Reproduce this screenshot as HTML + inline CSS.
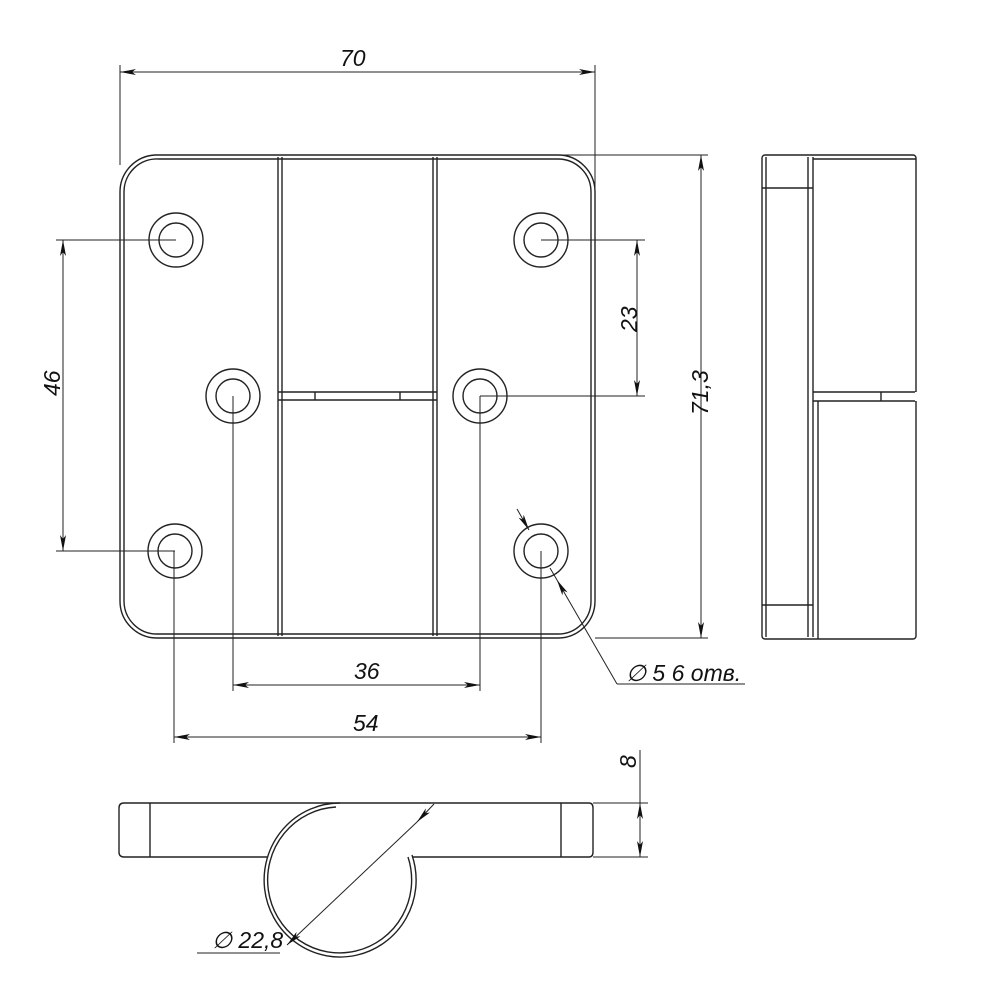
<!DOCTYPE html>
<html><head><meta charset="utf-8"><style>
html,body{margin:0;padding:0;background:#fff}
svg{display:block}
text{font-family:"Liberation Sans",sans-serif;font-style:italic;font-size:23px;fill:#111}
</style></head><body>
<svg width="1000" height="1000" viewBox="0 0 1000 1000" xmlns="http://www.w3.org/2000/svg">
<defs>
<marker id="a" viewBox="0 0 16 6" refX="16" refY="3" markerWidth="16" markerHeight="6" markerUnits="userSpaceOnUse" orient="auto-start-reverse"><path d="M0,0 L16,3 L0,6 L4,3 Z" fill="#111"/></marker>
</defs>
<g fill="none" stroke="#222" stroke-width="1.4">
<path d="M155,155 H558 A37,37 0 0 1 595,192 V601 A37,37 0 0 1 558,638 H157 A37,37 0 0 1 120,601 V192 A37,37 0 0 1 155,155 Z"/>
<path d="M159,159 H558 A33,33 0 0 1 591,192 V601 A33,33 0 0 1 558,634 H157 A33,33 0 0 1 124,601 V192 A33,33 0 0 1 159,159"/>
<line x1="278" y1="157" x2="278" y2="636"/><line x1="282" y1="157" x2="282" y2="636"/>
<line x1="433" y1="157" x2="433" y2="636"/><line x1="437" y1="157" x2="437" y2="636"/>
<line x1="278" y1="392" x2="437" y2="392"/><line x1="278" y1="400" x2="437" y2="400"/>
<line x1="315" y1="392" x2="315" y2="400"/><line x1="400" y1="392" x2="400" y2="400"/>
<circle cx="176" cy="240" r="27"/><circle cx="176" cy="240" r="17"/>
<circle cx="541" cy="240" r="27"/><circle cx="541" cy="240" r="17"/>
<circle cx="233" cy="396" r="27"/><circle cx="233" cy="396" r="17"/>
<circle cx="480" cy="396" r="27"/><circle cx="480" cy="396" r="17"/>
<circle cx="175" cy="551" r="27"/><circle cx="175" cy="551" r="17"/>
<circle cx="541" cy="551" r="27"/><circle cx="541" cy="551" r="17"/>
<rect x="762" y="155" width="154" height="484" rx="3"/>
<line x1="766" y1="157" x2="766" y2="637"/>
<line x1="808" y1="157" x2="808" y2="637"/><line x1="813" y1="157" x2="813" y2="637"/>
<line x1="762" y1="188" x2="813" y2="188"/><line x1="762" y1="605" x2="813" y2="605"/>
<line x1="813" y1="159" x2="916" y2="159"/>
<line x1="813" y1="392" x2="916" y2="392"/><line x1="813" y1="401" x2="916" y2="401"/>
<line x1="881" y1="392" x2="881" y2="401"/>
<line x1="818" y1="401" x2="818" y2="639"/>
<line x1="916" y1="392" x2="916" y2="401" stroke="#fff" stroke-width="2"/>
<path d="M340,803 H124 Q119,803 119,808 V852 Q119,857 124,857 H268"/>
<path d="M340,803 H589 Q593,803 593,808 V852 Q593,857 589,857 H412"/>
<line x1="150" y1="803" x2="150" y2="857"/><line x1="561" y1="803" x2="561" y2="857"/>
<path d="M340,803 A76,77 0 1 0 412,855"/>
<path d="M336,807 A72,73 0 1 0 408,857"/>
</g>
<g fill="none" stroke="#222" stroke-width="1">
<line x1="120" y1="65" x2="120" y2="165"/><line x1="595" y1="65" x2="595" y2="190"/>
<line x1="120" y1="72" x2="595" y2="72" marker-start="url(#a)" marker-end="url(#a)"/>
<line x1="560" y1="155" x2="708" y2="155"/><line x1="595" y1="638" x2="708" y2="638"/>
<line x1="701" y1="155" x2="701" y2="638" marker-start="url(#a)" marker-end="url(#a)"/>
<line x1="541" y1="240" x2="645" y2="240"/><line x1="480" y1="396" x2="645" y2="396"/>
<line x1="637" y1="240" x2="637" y2="396" marker-start="url(#a)" marker-end="url(#a)"/>
<line x1="56" y1="240" x2="176" y2="240"/><line x1="56" y1="551" x2="175" y2="551"/>
<line x1="63" y1="240" x2="63" y2="551" marker-start="url(#a)" marker-end="url(#a)"/>
<line x1="233" y1="396" x2="233" y2="691"/><line x1="480" y1="396" x2="480" y2="691"/>
<line x1="233" y1="685" x2="480" y2="685" marker-start="url(#a)" marker-end="url(#a)"/>
<line x1="174" y1="551" x2="174" y2="743"/><line x1="541" y1="551" x2="541" y2="743"/>
<line x1="174" y1="737" x2="541" y2="737" marker-start="url(#a)" marker-end="url(#a)"/>
<line x1="517" y1="509" x2="529" y2="530" marker-end="url(#a)"/>
<line x1="617" y1="684" x2="557" y2="580" marker-end="url(#a)"/>
<line x1="550" y1="568" x2="557" y2="580"/>
<line x1="617" y1="684" x2="745" y2="684"/>
<line x1="593" y1="803" x2="648" y2="803"/><line x1="593" y1="857" x2="648" y2="857"/>
<line x1="640" y1="750" x2="640" y2="857"/>
<line x1="640" y1="830" x2="640" y2="803" marker-end="url(#a)"/>
<line x1="640" y1="830" x2="640" y2="857" marker-end="url(#a)"/>
<line x1="197" y1="953" x2="280" y2="953"/>
<line x1="434" y1="804" x2="417" y2="822" marker-end="url(#a)"/>
<line x1="417" y1="822" x2="287" y2="945" marker-end="url(#a)"/>
</g>
<text x="340" y="66">70</text>
<text x="354" y="679">36</text>
<text x="353" y="731">54</text>
<text transform="translate(708,415) rotate(-90)">71,3</text>
<text transform="translate(637,332) rotate(-90)">23</text>
<text transform="translate(60,396) rotate(-90)">46</text>
<text transform="translate(636,768) rotate(-90)">8</text>
<text x="626" y="681">∅ 5  6 отв.</text>
<text x="212" y="948">∅ 22,8</text>
</svg>
</body></html>
